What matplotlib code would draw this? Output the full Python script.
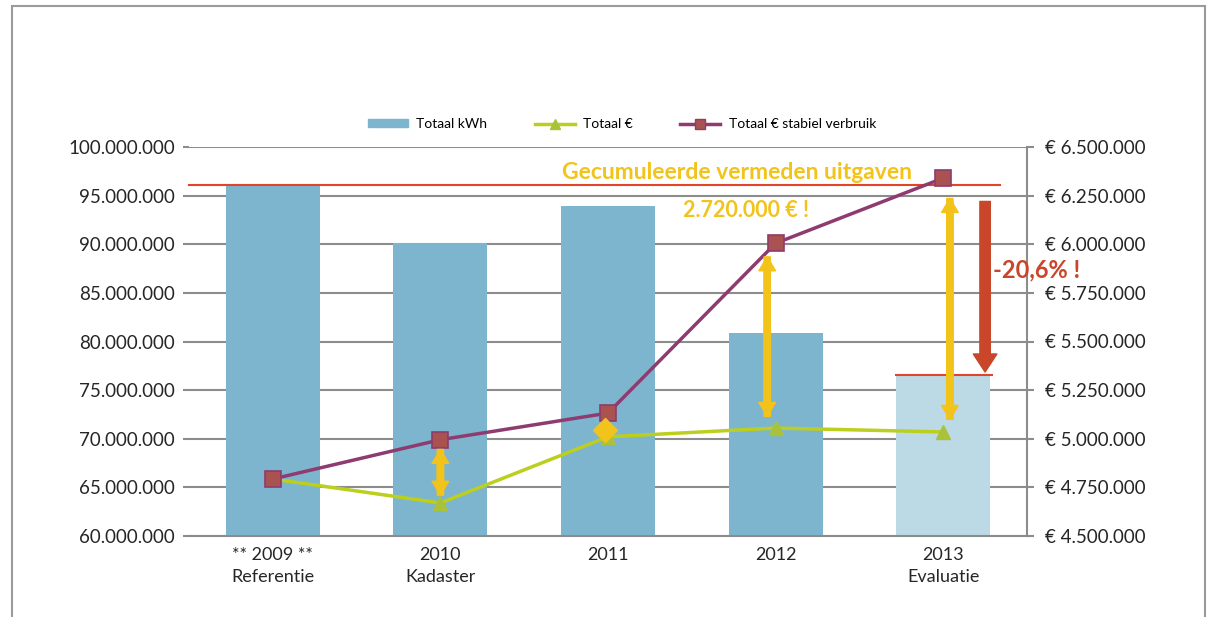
import numpy as np
import matplotlib.pyplot as plt
from matplotlib.patches import Rectangle, Patch
from matplotlib.lines import Line2D
from matplotlib.ticker import FuncFormatter

# --- data
categories  = ['** 2009 **\nReferentie', '2010\nKadaster', '2011', '2012', '2013\nEvaluatie']
kwh         = [96.1e6, 90.1e6, 93.9e6, 80.9e6, 76.6e6]
euro        = [4.793e6, 4.67e6, 5.01e6, 5.055e6, 5.035e6]
euro_stable = [4.793e6, 4.995e6, 5.132e6, 6.005e6, 6.34e6]

plt.rcParams['font.family'] = ['Lato', 'DejaVu Sans']

BAR   = '#7db5cf'
BAR_L = '#bcd9e6'
GREEN = '#bccf1e'
PURP  = '#8e3b70'
GOLD  = '#f2c31a'
RED   = '#c9462a'
GRID  = '#8c8c8c'
TXT   = '#262626'

fig = plt.figure(figsize=(12.07, 6.17), dpi=100)
# outer frame
fig.patches.append(Rectangle((12/1207, -0.1), (1205-12)/1207, 1.1 - 6/617,
                             transform=fig.transFigure, fill=False,
                             edgecolor='#9a9a9a', linewidth=1.5))

ax = fig.add_axes([189/1207, 1-536/617, (1027-189)/1207, (536-147)/617])
x = np.arange(len(categories))
colors = [BAR]*4 + [BAR_L]
ax.bar(x, kwh, width=0.56, color=colors, zorder=2)
ax.set_ylim(60e6, 100e6)
ax.set_xlim(-0.5, 4.5)
ax.set_yticks(np.arange(60e6, 100.1e6, 5e6))
ax.yaxis.set_major_formatter(FuncFormatter(lambda v, p: f'{v:,.0f}'.replace(',', '.')))
ax.grid(axis='y', color=GRID, linewidth=1.5, zorder=0)
ax.set_xticks(x)
ax.set_xticklabels(categories, fontsize=13, color=TXT, linespacing=1.45)
ax.tick_params(axis='x', length=0, pad=8)
ax.tick_params(axis='y', length=4, color=GRID, width=1.5, labelsize=13.5, labelcolor=TXT, pad=6)
for s in ['top', 'right', 'left']:
    ax.spines[s].set_visible(False)
ax.spines['bottom'].set_color(GRID)
ax.spines['bottom'].set_linewidth(1.5)

ax2 = ax.twinx()
ax2.set_ylim(4.5e6, 6.5e6)
ax2.set_yticks(np.arange(4.5e6, 6.51e6, 0.25e6))
ax2.yaxis.set_major_formatter(FuncFormatter(lambda v, p: '€ ' + f'{v:,.0f}'.replace(',', '.')))
ax2.tick_params(axis='y', length=5, color=GRID, width=1.5, labelsize=13.5, labelcolor=TXT, pad=8)
for s in ['top', 'left', 'bottom']:
    ax2.spines[s].set_visible(False)
ax2.spines['right'].set_color(GRID)
ax2.spines['right'].set_linewidth(1.5)

ax2.plot(x, euro, color=GREEN, linewidth=2.5, marker='^', markersize=10,
         markerfacecolor='#aac23a', markeredgecolor='#aac23a', zorder=3)
ax2.plot(x, euro_stable, color=PURP, linewidth=2.5, marker='s', markersize=11,
         markerfacecolor='#a9524f', markeredgecolor=PURP, markeredgewidth=1.2, zorder=4)

# annotations
ax.plot([-0.5, 4.34], [kwh[0], kwh[0]], color='#e0442a', linewidth=1.5, zorder=5, clip_on=False)
ax.plot([3.72, 4.29], [kwh[4], kwh[4]], color='#e0442a', linewidth=1.5, zorder=5)

def darrow(xc, y0, y1):
    style = 'simple,head_width=1.2,head_length=1.0,tail_width=0.45'
    ax2.annotate('', xy=(xc, y1), xytext=(xc, y0),
                 arrowprops=dict(arrowstyle=style, color=GOLD, shrinkA=0, shrinkB=0), zorder=6)
    ax2.annotate('', xy=(xc, y0), xytext=(xc, y1),
                 arrowprops=dict(arrowstyle=style, color=GOLD, shrinkA=0, shrinkB=0), zorder=6)

darrow(1.0, 4.71e6, 4.945e6)
darrow(2.95, 5.115e6, 5.935e6)
darrow(4.04, 5.10e6, 6.235e6)

ax2.annotate('', xy=(4.25, 5.343e6), xytext=(4.25, 6.22e6),
             arrowprops=dict(arrowstyle='simple,head_width=1.7,head_length=1.3,tail_width=0.75',
                             color=RED, shrinkA=0, shrinkB=0), zorder=6)

ax2.plot([1.98], [5.045e6], marker='D', markersize=12, color=GOLD, zorder=7)

fig.text(737/1207, 1-172/617, 'Gecumuleerde vermeden uitgaven', color=GOLD,
         fontsize=16.5, fontweight='bold', ha='center', va='center')
fig.text(746/1207, 1-210/617, '2.720.000 € !', color=GOLD,
         fontsize=15.5, fontweight='bold', ha='center', va='center')
fig.text(993/1207, 1-270/617, '-20,6% !', color=RED,
         fontsize=17, fontweight='bold', ha='left', va='center')

# legend
handles = [Patch(color=BAR),
           Line2D([], [], color=GREEN, linewidth=2.5, marker='^', markersize=7,
                  markerfacecolor='#aac23a', markeredgecolor='#aac23a'),
           Line2D([], [], color=PURP, linewidth=2.5, marker='s', markersize=7,
                  markerfacecolor='#a9524f', markeredgecolor=PURP)]
fig.legend(handles, ['Totaal kWh', 'Totaal €', 'Totaal € stabiel verbruik'],
           loc='center', bbox_to_anchor=(622/1207, 1-124/617), ncol=3, frameon=False,
           fontsize=10, columnspacing=3.4, handlelength=2.9, handleheight=0.5, handletextpad=0.6)

fig.savefig('out.png', dpi=100)
